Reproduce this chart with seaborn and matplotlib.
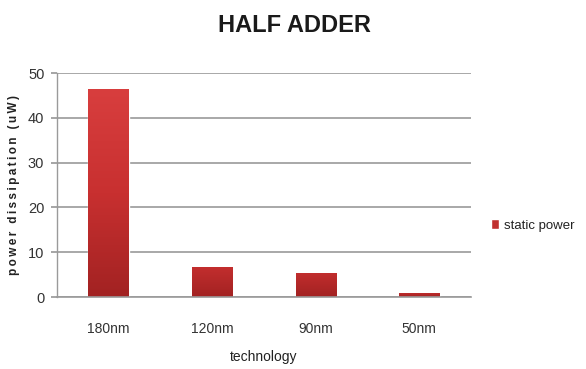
import numpy as np
import pandas as pd
import matplotlib
matplotlib.use("Agg")
import matplotlib.pyplot as plt
import seaborn as sns

# Static power of a half adder at each technology node
technology = ["180nm", "120nm", "90nm", "50nm"]
static_power = [46.4, 6.8, 5.4, 0.8]
series_name = "static power"
y_ticks = [0, 10, 20, 30, 40, 50]

df = pd.DataFrame({"technology": technology, "power": static_power})

sns.set_theme(style="white")
plt.rcParams["font.family"] = ["Liberation Sans", "DejaVu Sans"]

fig = plt.figure(figsize=(5.86, 3.69), dpi=100)
ax = fig.add_axes([0.097, 0.195, 0.707, 0.607])

sns.barplot(data=df, x="technology", y="power", color="#c0302f",
            width=0.39, ax=ax, label=series_name, saturation=1)

# vertical red gradient on each bar, shared across the value range
grad = np.linspace(0, 1, 256).reshape(-1, 1)
cmap = matplotlib.colors.LinearSegmentedColormap.from_list(
    "bar", ["#a22222", "#c83030", "#d83e3e"])
for p in ax.patches:
    x0, y0 = p.get_x(), p.get_y()
    w, h = p.get_width(), p.get_height()
    frac = 0.35 + 0.65 * h / max(static_power)
    im = ax.imshow(np.linspace(0, frac, 256).reshape(-1, 1),
                   extent=[x0, x0 + w, y0, y0 + h], origin="lower",
                   cmap=cmap, vmin=0, vmax=1, aspect="auto",
                   zorder=p.get_zorder() + 0.1)
    im.set_clip_path(p)

ax.set_xlim(-0.5, 3.5)
ax.set_ylim(0, 50)
ax.set_yticks(y_ticks)
ax.yaxis.grid(True, color="#9a9a9a", linewidth=1.2)
ax.set_axisbelow(True)
for s in ["top", "right"]:
    ax.spines[s].set_visible(False)
ax.spines["left"].set_color("#9a9a9a")
ax.spines["bottom"].set_color("#9a9a9a")
ax.spines["left"].set_linewidth(1.0)
ax.spines["bottom"].set_linewidth(1.2)
ax.tick_params(axis="y", left=True, length=4, color="#9a9a9a",
               labelsize=10.5, labelcolor="#333333", pad=5)
ax.tick_params(axis="x", bottom=False, labelsize=10, labelcolor="#333333", pad=12)

ax.set_xlabel("technology", fontsize=10, color="#222222", labelpad=10)
ylab = "\u2009".join("power dissipation (uW)")
ax.set_ylabel(ylab, fontsize=8.5, fontweight="bold", color="#222222", labelpad=6)

fig.text(0.503, 0.93, "HALF ADDER", ha="center", va="center",
         fontsize=17, fontweight="bold", color="#1a1a1a")

ax.legend(loc="center left", bbox_to_anchor=(1.02, 0.32), frameon=False,
          fontsize=9.5, handlelength=0.6, handleheight=0.8, handletextpad=0.4,
          labelcolor="#222222")

fig.savefig("out.png", dpi=100)
